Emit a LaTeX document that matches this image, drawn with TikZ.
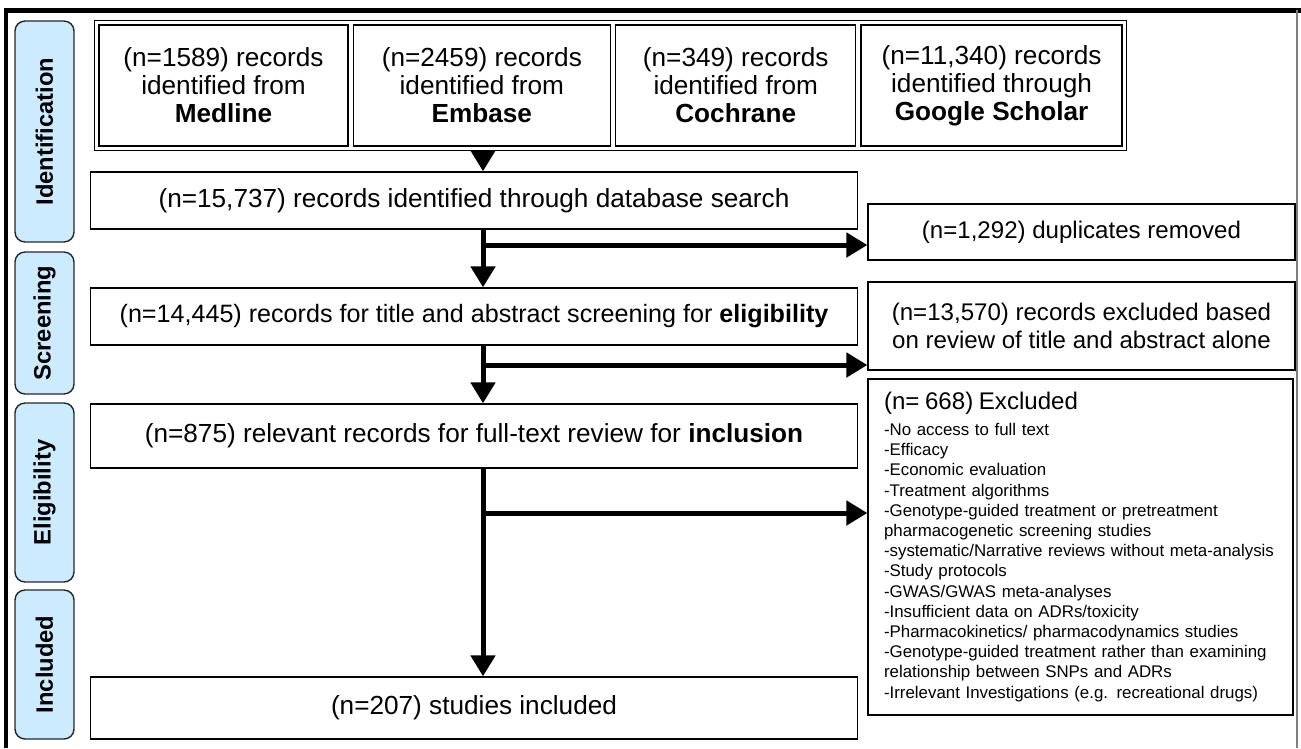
\documentclass[tikz,border=0pt]{standalone}
\usepackage{fontspec}
\setmainfont{Liberation Sans}
\usetikzlibrary{arrows.meta,positioning,fit}
\definecolor{phasefill}{RGB}{204,235,255}
\newcommand{\mainsize}{\fontsize{14.9}{16}\selectfont}
\newcommand{\sidesize}{\fontsize{13.7}{15.5}\selectfont}

\begin{document}
\begin{tikzpicture}[x=0.02cm,y=-0.02cm,node distance=0.08cm,
>={Triangle[length=0.42cm,width=0.48cm]},
box/.style={draw,line width=0.8pt,align=center,inner sep=0pt,font=\mainsize},
srcbox/.style={box,minimum height=2.42cm},
mainbox/.style={box,minimum width=15.34cm},
sidebox/.style={box,minimum width=8.54cm,font=\sidesize},
phase/.style={draw=black!85,line width=0.8pt,fill=phasefill,rounded corners=0.2cm,
  rotate=90,minimum height=1.18cm,inner sep=0pt,font=\fontsize{13.5}{15}\selectfont\bfseries},
arr/.style={->,line width=0.1cm}]
\useasboundingbox (0,0) rectangle (1301,748);
% frame
\draw[line width=0.1cm] (6,748) -- (6,10) -- (1301,10);
\draw[gray,line width=0.6pt] (1297,10) -- (1297,748);

% phases
\node[phase,minimum width=4.42cm] (pid) at (44.5,131.5) {Identification};
\node[phase,minimum width=2.84cm] (psc) at (44.5,323) {Screening};
\node[phase,minimum width=3.58cm] (pel) at (44.5,492.5) {Eligibility};
\node[phase,minimum width=2.98cm] (pin) at (44.5,664.5) {Included};

% databases
\node[srcbox,minimum width=4.98cm] (med) at (223.5,85.5) {(n=1589) records\\identified from\\\textbf{Medline}};
\node[srcbox,minimum width=5.14cm,right=of med] (emb) {(n=2459) records\\identified from\\\textbf{Embase}};
\node[srcbox,minimum width=4.8cm,right=of emb] (coch) {(n=349) records\\identified from\\\textbf{Cochrane}};
\node[srcbox,minimum width=5.22cm,right=of coch] (gs) {(n=11,340) records\\identified through\\\textbf{Google Scholar}};
\node[draw,line width=0.8pt,inner sep=0.08cm,fit=(med)(gs)] (src) {};

% main flow
\node[mainbox,minimum height=1.14cm] (search) at (474,200.5) {(n=15,737) records identified through database search};
\node[mainbox,minimum height=1.14cm,font=\fontsize{14.3}{16}\selectfont] (screen) at (474,316.5) {(n=14,445) records for title and abstract screening for \textbf{eligibility}};
\node[mainbox,minimum height=1.28cm] (full) at (474,436) {(n=875) relevant records for full-text review for \textbf{inclusion}};
\node[mainbox,minimum height=1.24cm] (incl) at (474,708) {(n=207) studies included};

% exclusions
\node[sidebox,minimum height=1.12cm] (dup) at (1081.5,232) {(n=1,292) duplicates removed};
\node[sidebox,minimum height=1.76cm] (exta) at (1081.5,326) {(n=13,570) records excluded based\\on review of title and abstract alone};
\node[sidebox,minimum width=8.5cm,minimum height=6.72cm,align=left,text width=7.86cm,inner xsep=0.32cm,
  font=\fontsize{9.6}{11.5}\selectfont] (extb) at (1080.5,547) {{\sidesize (n= 668) Excluded}\\[3pt]
-No access to full text\\
-Efficacy\\
-Economic evaluation\\
-Treatment algorithms\\
-Genotype-guided treatment or pretreatment\\
pharmacogenetic screening studies\\
-systematic/Narrative reviews without meta-analysis\\
-Study protocols\\
-GWAS/GWAS meta-analyses\\
-Insufficient data on ADRs/toxicity\\
-Pharmacokinetics/ pharmacodynamics studies\\
-Genotype-guided treatment rather than examining\\
relationship between SNPs and ADRs\\
-Irrelevant Investigations (e.g. recreational drugs)};

% arrows
\coordinate (spine) at (483,0);
\coordinate (ba) at (483,245);
\coordinate (bb) at (483,365);
\coordinate (bc) at (483,513);
\draw[arr] (src.south -| spine) -- (search.north -| spine);
\draw[arr] (search.south -| spine) -- (screen.north -| spine);
\draw[arr] (screen.south -| spine) -- (full.north -| spine);
\draw[arr] (full.south -| spine) -- (incl.north -| spine);
\draw[arr] (ba) -- (ba -| dup.west);
\draw[arr] (bb) -- (bb -| exta.west);
\draw[arr] (bc) -- (bc -| extb.west);
\end{tikzpicture}
\end{document}
